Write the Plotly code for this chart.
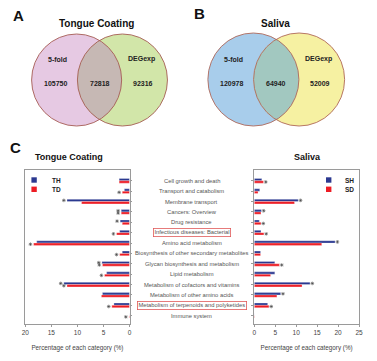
import numpy as np
import plotly.graph_objects as go

W, H = 377, 361
FONT = "Arial, Liberation Sans, sans-serif"

# ---------------- data ----------------
categories = [
    "Cell growth and death", "Transport and catabolism", "Membrane transport",
    "Cancers: Overview", "Drug resistance", "Infectious diseases: Bacterial",
    "Amino acid metabolism", "Biosynthesis of other secondary metabolites",
    "Glycan biosynthesis and metabolism", "Lipid metabolism",
    "Metabolism of cofactors and vitamins", "Metabolism of other amino acids",
    "Metabolism of terpenoids and polyketides", "Immune system",
]
boxed = ["Infectious diseases: Bacterial", "Metabolism of terpenoids and polyketides"]

TH = [2.0, 1.0, 12.0, 1.6, 1.8, 1.9, 17.8, 1.4, 5.3, 4.4, 12.6, 5.2, 3.0, 0.02]
TD = [2.0, 1.4, 9.2, 1.6, 1.4, 2.5, 18.4, 1.9, 5.2, 4.8, 12.0, 5.4, 3.4, 0.12]
SH = [1.8, 1.3, 10.5, 1.7, 1.2, 1.6, 19.3, 1.5, 4.9, 4.9, 13.3, 6.3, 3.2, 0.02]
SD = [2.2, 0.9, 9.6, 1.6, 1.6, 2.3, 16.1, 1.5, 6.0, 3.9, 11.4, 5.4, 3.5, 0.08]

TH_sig = [0, 0, 1, 1, 1, 0, 0, 0, 1, 0, 1, 0, 0, 0]
TD_sig = [0, 1, 0, 1, 0, 1, 1, 1, 1, 1, 1, 0, 1, 1]
SH_sig = [0, 0, 1, 1, 0, 0, 1, 0, 0, 0, 1, 1, 0, 0]
SD_sig = [1, 0, 0, 0, 1, 1, 0, 0, 1, 0, 0, 0, 1, 0]

left_ticks = [20, 15, 10, 5, 0]
right_ticks = [0, 5, 10, 15, 20, 25]

venn_tc = [105750, 72818, 92316]
venn_sal = [120978, 64940, 52009]
venn_sets = ["5-fold", "DEGexp"]

BLUE = "#2b3990"
RED = "#ed1c24"
BARGAP = 0.55


def px(x):
    return x / W


def py(y):
    return 1 - y / H


def note(x, y, text, size, color="#222", **kw):
    d = dict(x=px(x), y=py(y), xref="paper", yref="paper", text=text,
             showarrow=False, xanchor="center", yanchor="middle",
             font=dict(size=size, color=color, family=FONT))
    d.update(kw)
    return d


pos = list(range(len(categories)))
half = (1 - BARGAP) / 4  # centre offset of each bar within its group

fig = go.Figure()

# ---------------- bars ----------------
for name, vals, col, xa, ya in [
    ("TH", TH, BLUE, "x", "y"), ("TD", TD, RED, "x", "y"),
    ("SH", SH, BLUE, "x2", "y2"), ("SD", SD, RED, "x2", "y2"),
]:
    fig.add_trace(go.Bar(
        y=pos, x=vals, orientation="h", name=name,
        marker=dict(color=col, line=dict(color="white", width=0.3)),
        xaxis=xa, yaxis=ya, showlegend=False, hovertext=categories,
    ))

# significance asterisks (markers)
for vals, sig, xa, ya, dy, off in [
    (TH, TH_sig, "x", "y", -half, 0.6), (TD, TD_sig, "x", "y", half, 0.6),
    (SH, SH_sig, "x2", "y2", -half, 0.55), (SD, SD_sig, "x2", "y2", half, 0.55),
]:
    xs = [v + off for v, s in zip(vals, sig) if s]
    ys = [p + dy for p, s in zip(pos, sig) if s]
    fig.add_trace(go.Scatter(
        x=xs, y=ys, mode="markers", xaxis=xa, yaxis=ya, showlegend=False,
        marker=dict(symbol="asterisk-open", size=3, color="#444",
                    line=dict(color="#444", width=0.6)),
    ))

annotations = []
# category labels
for p, c in zip(pos, categories):
    a = dict(x=px(192), y=p, xref="paper", yref="y", text=c, showarrow=False,
             xanchor="center", yanchor="middle",
             font=dict(size=5.8, color="#555", family=FONT))
    if c in boxed:
        a.update(bordercolor="#e05a5a", borderwidth=0.8, borderpad=0.6)
    annotations.append(a)

ydom = [py(323.5), py(170)]
yrange = [13.75, -1.04]
axis_common = dict(showline=True, linecolor="#9a9a9a", linewidth=0.8, mirror=True,
                   ticks="outside", tickcolor="#9a9a9a", ticklen=3, showgrid=False,
                   zeroline=False)
fig.update_layout(
    xaxis=dict(domain=[px(21.7), px(128.3)], range=[20, 0], tickvals=left_ticks,
               anchor="y", tickfont=dict(size=6.5, color="#444", family=FONT),
               title=dict(text="Percentage of each category (%)", standoff=10,
                          font=dict(size=6.3, color="#444", family=FONT)),
               **axis_common),
    yaxis=dict(domain=ydom, range=yrange, tickvals=pos,
               side="right", anchor="x", showticklabels=False,
               **{**axis_common, "ticklen": 2}),
    xaxis2=dict(domain=[px(255.7), px(362.7)], range=[0, 25], tickvals=right_ticks,
                anchor="y2", tickfont=dict(size=6.5, color="#444", family=FONT),
                title=dict(text="Percentage of each category (%)", standoff=10,
                           font=dict(size=6.3, color="#444", family=FONT)),
                **axis_common),
    yaxis2=dict(domain=ydom, range=yrange, tickvals=pos,
                side="left", anchor="x2", showticklabels=False,
                **{**axis_common, "ticklen": 2}),
    barmode="group", bargap=BARGAP, bargroupgap=0.0,
)

# ---------------- legends (manual) ----------------
shapes = []
for names, sx, tx in [(["TH", "TD"], 28, 47), (["SH", "SD"], 329, 346.5)]:
    for i, (nm, col) in enumerate(zip(names, [BLUE, RED])):
        yc = 180 + i * 9.3
        shapes.append(dict(type="rect", xref="paper", yref="paper",
                           x0=px(sx), x1=px(sx + 5.5), y0=py(yc + 2.7), y1=py(yc - 2.7),
                           fillcolor=col, line=dict(width=0)))
        annotations.append(note(tx, yc, f"<b>{nm}</b>", 6.5, xanchor="left"))


# ---------------- Venn diagrams ----------------
def venn(cx1, cx2, cy, r, c1, c2, cmid, edge, vals, title, title_x):
    d = cx2 - cx1
    h = np.sqrt(r ** 2 - (d / 2) ** 2)
    a = np.arcsin(h / r)
    t1 = np.linspace(np.pi - a, np.pi + a, 40)
    t2 = np.linspace(-a, a, 40)
    xs = list(cx2 + r * np.cos(t1)) + list(cx1 + r * np.cos(t2))
    ys = list(cy - r * np.sin(t1)) + list(cy - r * np.sin(t2))
    path = "M " + " L ".join(f"{px(x):.5f},{py(y):.5f}" for x, y in zip(xs, ys)) + " Z"
    for cx, col in [(cx1, c1), (cx2, c2)]:
        shapes.append(dict(type="circle", xref="paper", yref="paper",
                           x0=px(cx - r), x1=px(cx + r), y0=py(cy + r), y1=py(cy - r),
                           fillcolor=col, line=dict(width=0)))
    shapes.append(dict(type="path", xref="paper", yref="paper", path=path,
                       fillcolor=cmid, line=dict(width=0)))
    for cx in (cx1, cx2):
        shapes.append(dict(type="circle", xref="paper", yref="paper",
                           x0=px(cx - r), x1=px(cx + r), y0=py(cy + r), y1=py(cy - r),
                           line=dict(color=edge, width=0.9)))
    lx = cx1 - r * 0.43
    rx = cx2 + r * 0.43
    mx = (cx1 + cx2) / 2
    for t, x in [(venn_sets[0], lx), (venn_sets[1], rx)]:
        annotations.append(note(x, 59.3, f"<b>{t}</b>", 7))
    for v, x in zip(vals, [lx - 2, mx, rx + 1]):
        annotations.append(note(x, 83, f"<b>{v}</b>", 7))
    annotations.append(note(title_x, 23, f"<b>{title}</b>", 10, "#111"))


venn(74.2, 121.0, 80, 46, "#e6c9e3", "#d2e6a9", "#c6b8b4", "#a65e55",
     venn_tc, "Tongue Coating", 95)
venn(254.8, 301.5, 79.5, 46.5, "#a8cdeb", "#f6f1a2", "#a2c8c0", "#b0695a",
     venn_sal, "Saliva", 277.7)

# panel letters and titles
for t, x, y in [("A", 15, 15), ("B", 199.7, 14), ("C", 11.7, 147)]:
    annotations.append(note(x, y, f"<b>{t}</b>", 15, "#111"))
for t, x in [("Tongue Coating", 66), ("Saliva", 310)]:
    annotations.append(note(x, 157, f"<b>{t}</b>", 9, "#111"))

fig.update_layout(
    width=W, height=H, margin=dict(l=0, r=0, t=0, b=0),
    paper_bgcolor="white", plot_bgcolor="white",
    annotations=annotations, shapes=shapes, showlegend=False,
    font=dict(family=FONT),
)

# remove the browser's default 8px body margin so the figure sits at the page origin
fig.write_html("out.html", config={"displayModeBar": False},
               post_script="document.body.style.margin='0';")
